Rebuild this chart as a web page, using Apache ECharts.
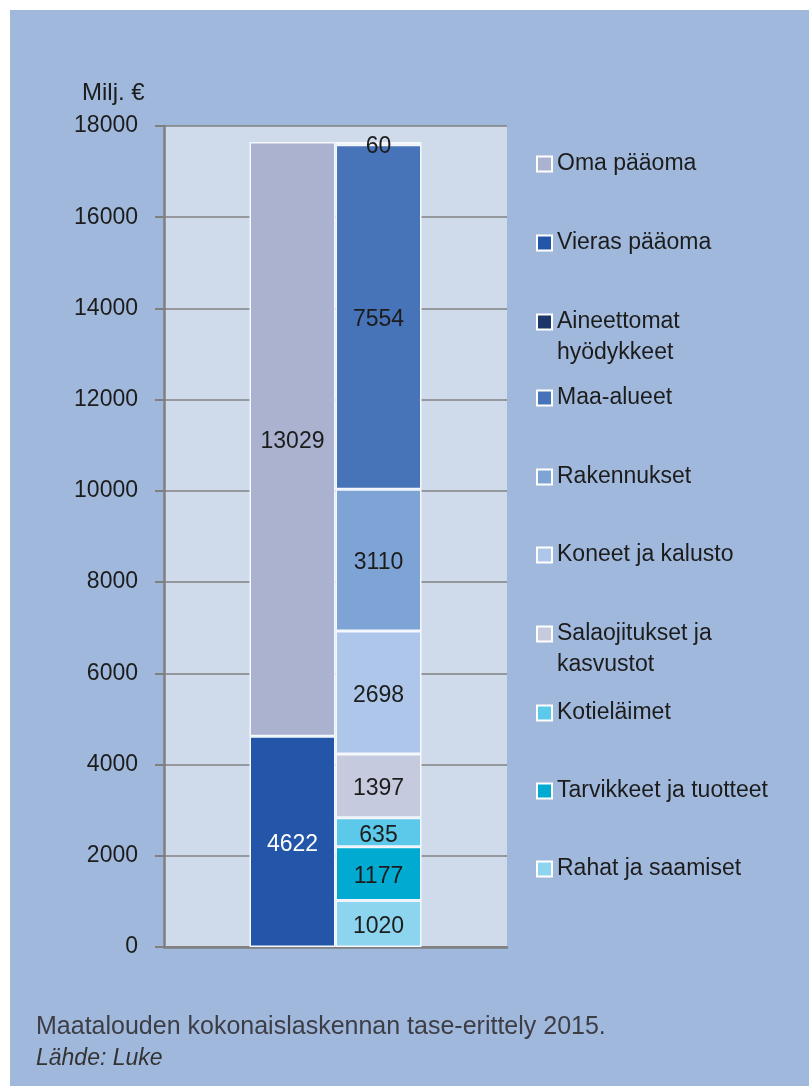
<!DOCTYPE html>
<html>
<head>
<meta charset="utf-8">
<script src="https://cdn.jsdelivr.net/npm/echarts@6/dist/echarts.min.js"></script>
<style>
  html, body { margin: 0; padding: 0; background: #fff; }
  #tase { width: 809px; height: 1086px; }
</style>
</head>
<body>
<div id="tase"></div>
<script>
// rahoitus (vasen pylväs) alhaalta ylös
var rahoitusNimet = ['Vieras pääoma', 'Oma pääoma'];
var rahoitusArvot = [4622, 13029];

// varat (oikea pylväs) alhaalta ylös
var varatNimet = ['Rahat ja saamiset', 'Tarvikkeet ja tuotteet', 'Kotieläimet',
    'Salaojitukset ja kasvustot', 'Koneet ja kalusto', 'Rakennukset',
    'Maa-alueet', 'Aineettomat hyödykkeet'];
var varatArvot = [1020, 1177, 635, 1397, 2698, 3110, 7554, 60];

// selitteen järjestys
var selite = ['Oma pääoma', 'Vieras pääoma', 'Aineettomat hyödykkeet', 'Maa-alueet',
    'Rakennukset', 'Koneet ja kalusto', 'Salaojitukset ja kasvustot', 'Kotieläimet',
    'Tarvikkeet ja tuotteet', 'Rahat ja saamiset'];

var yMin = 0, yMax = 18000, yStep = 2000;

var varit = {
    'Oma pääoma': '#aab2d0',
    'Vieras pääoma': '#2356a8',
    'Aineettomat hyödykkeet': '#1f3468',
    'Maa-alueet': '#4773b9',
    'Rakennukset': '#7ea4d6',
    'Koneet ja kalusto': '#adc6ea',
    'Salaojitukset ja kasvustot': '#c6cade',
    'Kotieläimet': '#5cc8ea',
    'Tarvikkeet ja tuotteet': '#00aad0',
    'Rahat ja saamiset': '#8dd5ee'
};
// tyhjä ensimmäinen rivi pitää ensimmäisen tekstirivin ruudun kohdalla
var rivitetty = {
    'Aineettomat hyödykkeet': '\nAineettomat\nhyödykkeet',
    'Salaojitukset ja kasvustot': '\nSalaojitukset ja\nkasvustot'
};

var FONT = "'Liberation Sans Narrow','Arial Narrow','Liberation Sans',sans-serif";
var TXT = '#1c1c1c';
var FS = 23;

var myChart = echarts.init(document.getElementById('tase'));

function pylvas(nimi, arvo, pino) {
    return {
        name: nimi,
        type: 'bar',
        stack: pino,
        barWidth: 86,
        barGap: '0%',
        data: [arvo],
        itemStyle: {color: varit[nimi], borderColor: '#f4f7fb', borderWidth: 1.5},
        label: {
            show: true,
            position: 'inside',
            offset: [0, 3],
            fontFamily: FONT,
            fontSize: FS,
            color: nimi === 'Vieras pääoma' ? '#ffffff' : TXT
        },
        emphasis: {disabled: true}
    };
}

var series = [];
rahoitusNimet.forEach(function (n, i) { series.push(pylvas(n, rahoitusArvot[i], 'rahoitus')); });
varatNimet.forEach(function (n, i) { series.push(pylvas(n, varatArvot[i], 'varat')); });

// selitteen rivien keskikohdat (y)
var seliteY = [164, 243, 322, 398, 477, 555, 634, 713, 791, 869];
var legends = selite.map(function (n, i) {
    var kaksi = !!rivitetty[n];
    return {
        data: [n],
        left: 536,
        top: seliteY[i] - (kaksi ? 46.5 : 15.5),
        padding: 0,
        itemWidth: 15,
        itemHeight: 15,
        icon: 'rect',
        selectedMode: false,
        itemStyle: {borderColor: '#ffffff', borderWidth: 2},
        formatter: function (name) { return rivitetty[name] || name; },
        textStyle: {fontFamily: FONT, fontSize: FS, color: TXT, lineHeight: 31}
    };
});

option = {
    backgroundColor: '#a0b8dc',
    animation: false,
    grid: {
        left: 164, right: 302, top: 126, bottom: 139,
        show: true, backgroundColor: '#cfdbeb', borderWidth: 0
    },
    legend: legends,
    xAxis: {
        type: 'category',
        data: [''],
        axisLine: {lineStyle: {color: '#7f7f7f', width: 2.5}},
        axisTick: {show: false},
        axisLabel: {show: false}
    },
    yAxis: {
        type: 'value',
        min: yMin, max: yMax, interval: yStep,
        axisLine: {show: true, lineStyle: {color: '#7f7f7f', width: 2.5}},
        axisTick: {show: true, length: 9, lineStyle: {color: '#7f7f7f', width: 2}},
        splitLine: {lineStyle: {color: '#808080', width: 1.5}},
        axisLabel: {
            fontFamily: FONT, fontSize: FS, color: TXT, margin: 26,
            padding: [5, 0, 0, 0],
            formatter: function (v) { return String(v); }
        }
    },
    graphic: [
        {type: 'rect', shape: {x: 0, y: 0, width: 10, height: 1086}, style: {fill: '#fff'}, silent: true},
        {type: 'rect', shape: {x: 0, y: 0, width: 809, height: 10}, style: {fill: '#fff'}, silent: true},
        {type: 'text', left: 82, top: 81,
         style: {text: 'Milj. €', font: '24px ' + FONT, fill: TXT}},
        {type: 'text', left: 36, top: 1015,
         style: {text: 'Maatalouden kokonaislaskennan tase-erittely 2015.', font: '25px ' + FONT, fill: '#3d3d45'}},
        {type: 'text', left: 36, top: 1047,
         style: {text: 'Lähde: Luke', font: 'italic 23px ' + FONT, fill: '#333333'}}
    ],
    series: series
};

myChart.setOption(option);
</script>
</body>
</html>
